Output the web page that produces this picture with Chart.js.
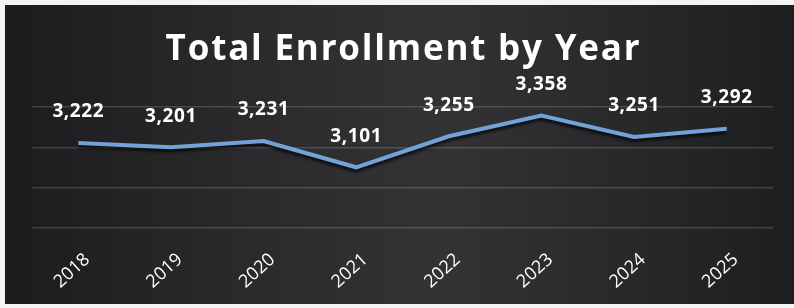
<!DOCTYPE html>
<html>
<head>
<meta charset="utf-8">
<script src="https://cdn.jsdelivr.net/npm/chart.js@4.4.1/dist/chart.umd.min.js"></script>
<style>
  body { margin: 0; background: #f4f4f4; }
  #wrap {
    position: absolute; left: 5px; top: 5px; width: 789px; height: 299px;
    background: linear-gradient(90deg, #1c1c1e 0%, #2a2a2c 30%, #333335 55%, #28282a 80%, #1c1e20 100%);
  }
</style>
</head>
<body>
<div id="wrap"><canvas id="enrollChart" width="789" height="299"></canvas></div>
<script>
var chartTitle = "Total Enrollment by Year";
var years = ["2018", "2019", "2020", "2021", "2022", "2023", "2024", "2025"];
var enrollment = [3222, 3201, 3231, 3101, 3255, 3358, 3251, 3292];
var yTicks = [2800, 3000, 3200, 3400];

// title drawn by hand so it can be letter-spaced like the original
var spacedTitle = {
    id: 'spacedTitle',
    afterDraw: function(chart) {
        var ctx = chart.ctx;
        ctx.save();
        ctx.fillStyle = '#ffffff';
        ctx.font = 'bold 35px "Open Sans"';
        ctx.letterSpacing = '1.8px';
        ctx.textAlign = 'center';
        ctx.textBaseline = 'middle';
        ctx.fillText(chartTitle, chart.width / 2 + 4, 45);
        ctx.restore();
    }
};

// value labels above each point
var valueLabels = {
    id: 'valueLabels',
    afterDatasetsDraw: function(chart) {
        var ctx = chart.ctx;
        var meta = chart.getDatasetMeta(0);
        ctx.save();
        ctx.fillStyle = '#ffffff';
        ctx.font = 'bold 19px "Open Sans"';
        ctx.letterSpacing = '0.6px';
        ctx.textAlign = 'center';
        ctx.textBaseline = 'middle';
        meta.data.forEach(function(pt, i) {
            ctx.fillText(enrollment[i].toLocaleString('en-US'), pt.x, pt.y - 31);
        });
        ctx.restore();
    }
};

var lineShadow = {
    id: 'lineShadow',
    beforeDatasetDraw: function(chart) {
        chart.ctx.save();
        chart.ctx.shadowColor = 'rgba(0,0,0,0.7)';
        chart.ctx.shadowBlur = 3;
        chart.ctx.shadowOffsetY = 3;
    },
    afterDatasetDraw: function(chart) {
        chart.ctx.restore();
    }
};

new Chart(document.getElementById('enrollChart'), {
    type: 'line',
    data: {
        labels: years,
        datasets: [{
            data: enrollment,
            borderColor: '#72a2d6',
            borderWidth: 4,
            pointRadius: 0,
            tension: 0,
            fill: false
        }]
    },
    options: {
        responsive: false,
        animation: false,
        layout: { padding: { top: 102, left: 27, right: 21, bottom: 0 } },
        plugins: {
            legend: { display: false },
            tooltip: { enabled: false },
            title: { display: false }
        },
        scales: {
            x: {
                offset: true,
                afterFit: function(axis) { axis.height = 76; },
                grid: { display: false },
                border: { display: false },
                ticks: {
                    color: '#ffffff',
                    font: { family: 'Open Sans', size: 18 },
                    minRotation: 42,
                    maxRotation: 42,
                    padding: 13,
                    labelOffset: 9
                }
            },
            y: {
                min: yTicks[0],
                max: yTicks[yTicks.length - 1],
                afterBuildTicks: function(axis) {
                    axis.ticks = yTicks.map(function(v) { return { value: v }; });
                },
                grid: { color: 'rgba(255,255,255,0.16)', lineWidth: 1.5, drawTicks: false },
                border: { display: false },
                ticks: { display: false }
            }
        }
    },
    plugins: [valueLabels, lineShadow, spacedTitle]
});
</script>
</body>
</html>
